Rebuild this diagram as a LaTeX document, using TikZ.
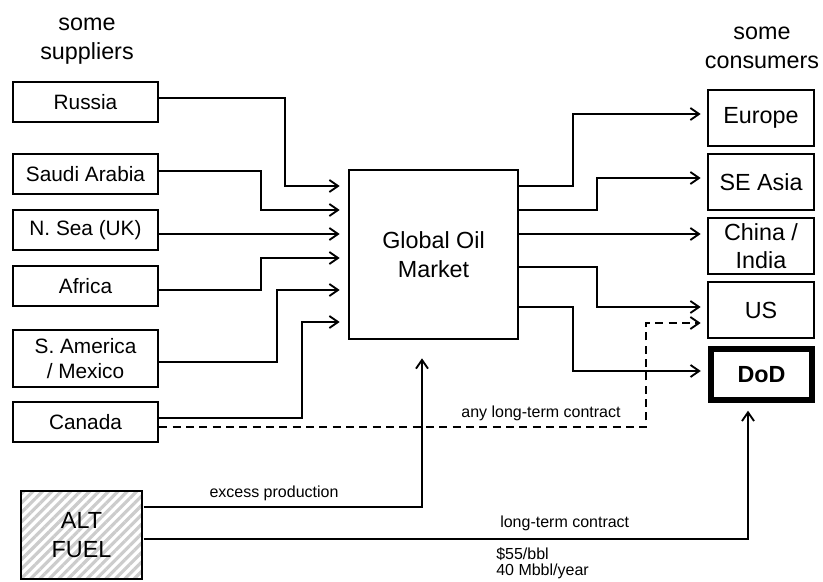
\documentclass[tikz,border=0pt]{standalone}
\usepackage{fontspec}
\setmainfont{Liberation Sans}
\usetikzlibrary{arrows.meta,patterns.meta}
\tikzset{
	big/.style={font=\fontsize{17.5}{21.5}\selectfont},
	box/.style={draw, line width=2pt, inner sep=0pt, align=center, big},
	supplier/.style={box, minimum width=108.75pt, minimum height=30pt, font=\fontsize{15.6}{19}\selectfont},
	consumer/.style={box, minimum width=79.5pt, minimum height=42pt},
	flow/.style={line width=1.4pt, -{Straight Barb[length=6.5pt,width=9pt]}},
	note/.style={font=\fontsize{12}{14}\selectfont, inner sep=0pt},
}
\begin{document}
\begin{tikzpicture}[x=0.75pt, y=-0.75pt]
	\useasboundingbox (0,0) rectangle (823,581);
	\node[big, align=center] (supp) at (87,41) {some\\suppliers};
	\node[big, align=center] (cons) at (762,48) {some\\consumers};
	\node[supplier] (russia) at (85.5,102) {Russia};
	\node[supplier] (saudi) at (85.5,174) {Saudi Arabia};
	\node[supplier] (nsea) at (85.5,230) {N. Sea (UK)};
	\node[supplier] (africa) at (85.5,286) {Africa};
	\node[supplier, minimum height=42.75pt] (samerica) at (85.5,358.5) {S. America\\/ Mexico};
	\node[supplier] (canada) at (85.5,422) {Canada};
	\node[box, minimum width=126.75pt, minimum height=126.75pt] (market) at (433.5,254.5) {Global Oil\\Market};
	\node[consumer] (europe) at (761,118) {Europe};
	\node[consumer] (seasia) at (761,182) {SE Asia};
	\node[consumer] (china) at (761,246) {China /\\India};
	\node[consumer] (us) at (761,310) {US};
	\node[consumer, line width=4.3pt, minimum width=75.75pt, minimum height=38pt, font=\fontsize{17.5}{21}\selectfont\bfseries] (dod) at (761.5,374.5) {DoD};
	\node[box, line width=1.3pt, minimum width=90.75pt, minimum height=66pt, pattern={Lines[angle=45,distance=5pt,line width=2.4pt]}, pattern color=gray!40] (altfuel) at (81.5,535) {ALT\\FUEL};

	\draw[flow, shorten >=6pt] (russia.east |- 0,98) -| (285,186) -- (market.west |- 0,186);
	\draw[flow, shorten >=6pt] (saudi.east |- 0,171) -| (261,210) -- (market.west |- 0,210);
	\draw[flow, shorten >=6pt] (nsea.east |- 0,234) -- (market.west |- 0,234);
	\draw[flow, shorten >=6pt] (africa.east |- 0,290) -| (261,258) -- (market.west |- 0,258);
	\draw[flow, shorten >=6pt] (samerica.east |- 0,362) -| (277,290) -- (market.west |- 0,290);
	\draw[flow, shorten >=6pt] (canada.east |- 0,418) -| (302,322) -- (market.west |- 0,322);
	\draw[flow, dash pattern=on 6pt off 4pt, shorten >=4.5pt] (canada.east |- 0,427) -| (646,323) -- (us.west |- 0,323);

	\draw[flow, shorten >=4.5pt] (market.east |- 0,186) -| (573,114) -- (europe.west |- 0,114);
	\draw[flow, shorten >=4.5pt] (market.east |- 0,210) -| (597,178) -- (seasia.west |- 0,178);
	\draw[flow, shorten >=4.5pt] (market.east |- 0,234) -- (china.west |- 0,234);
	\draw[flow, shorten >=4.5pt] (market.east |- 0,267) -| (597,307) -- (us.west |- 0,307);
	\draw[flow, shorten >=5.5pt] (market.east |- 0,307) -| (573,371) -- (dod.west |- 0,371);

	\draw[flow, shorten >=13.5pt] (altfuel.east |- 0,507) -| (market.south -| 422,0);
	\draw[flow, shorten >=6pt] (altfuel.east |- 0,539) -| (dod.south -| 748,0);

	\node[note] (any) at (541,413) {any long-term contract};
	\node[note] (excess) at (274,493) {excess production};
	\node[note, anchor=west] (lterm) at (500,523) {long-term contract};
	\node[note, anchor=west] (price) at (496,554) {\$55/bbl};
	\node[note, anchor=west] (volume) at (496,571) {40 Mbbl/year};
\end{tikzpicture}
\end{document}
